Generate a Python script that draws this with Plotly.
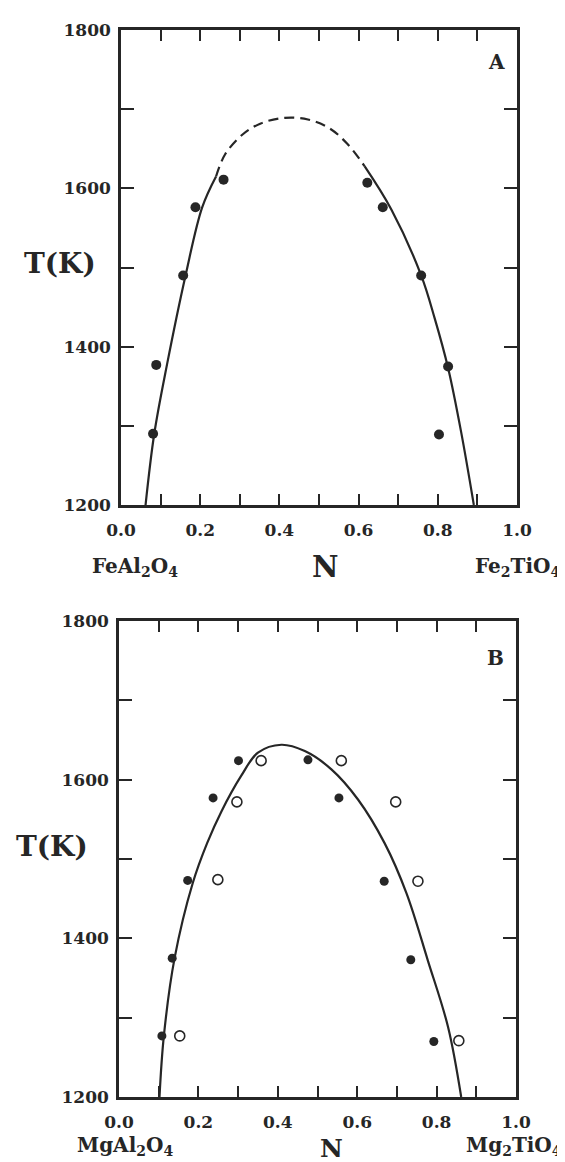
import plotly.graph_objects as go

# ---------------- data ----------------
# Panel A (FeAl2O4 - Fe2TiO4), filled circles
a_n = [0.081, 0.089, 0.157, 0.188, 0.259, 0.622, 0.661, 0.758, 0.826, 0.803]
a_t = [1290, 1377, 1490, 1576, 1611, 1607, 1576, 1490, 1375, 1289]
# Panel A solvus curve
a_left_n = [0.062, 0.084, 0.116, 0.163, 0.205, 0.240]
a_left_t = [1200, 1290, 1377, 1490, 1576, 1615]
a_dash_n = [0.240, 0.263, 0.307, 0.353, 0.413, 0.472, 0.526, 0.572, 0.615]
a_dash_t = [1615, 1643, 1668, 1682, 1689, 1687, 1676, 1656, 1628]
a_right_n = [0.615, 0.683, 0.758, 0.792, 0.826, 0.859, 0.891]
a_right_t = [1628, 1573, 1490, 1436, 1373, 1292, 1200]

# Panel B (MgAl2O4 - Mg2TiO4)
b_fill_n = [0.108, 0.134, 0.173, 0.237, 0.301, 0.476, 0.554, 0.668, 0.735, 0.793]
b_fill_t = [1277, 1375, 1473, 1577, 1624, 1625, 1577, 1472, 1373, 1270]
b_open_n = [0.153, 0.249, 0.297, 0.358, 0.560, 0.697, 0.753, 0.856]
b_open_t = [1277, 1474, 1572, 1624, 1624, 1572, 1472, 1271]
b_curve_n = [0.102, 0.113, 0.140, 0.186, 0.222, 0.258, 0.308, 0.350, 0.409,
             0.468, 0.535, 0.602, 0.669, 0.724, 0.778, 0.829, 0.862]
b_curve_t = [1200, 1277, 1375, 1470, 1520, 1560, 1605, 1634, 1644,
             1636, 1613, 1575, 1520, 1457, 1372, 1288, 1200]

x_tickvals = [0.0, 0.1, 0.2, 0.3, 0.4, 0.5, 0.6, 0.7, 0.8, 0.9, 1.0]
x_ticktext = ["0.0", "", "0.2", "", "0.4", "", "0.6", "", "0.8", "", "1.0"]
y_tickvals = [1200, 1300, 1400, 1500, 1600, 1700, 1800]
y_ticktext = ["1200", "", "1400", "", "1600", "", "1800"]

INK = "#262626"
FONT = "DejaVu Serif"
W, H = 565, 1162

fig = go.Figure()

def line(xs, ys, xa, ya, dash="solid"):
    fig.add_trace(go.Scatter(x=xs, y=ys, mode="lines", xaxis=xa, yaxis=ya,
                             line=dict(color=INK, width=2.2, shape="spline", smoothing=1.0, dash=dash),
                             showlegend=False, hoverinfo="skip"))

line(a_left_n, a_left_t, "x", "y")
line(a_dash_n, a_dash_t, "x", "y", dash="10px,6px")
line(a_right_n, a_right_t, "x", "y")
fig.add_trace(go.Scatter(x=a_n, y=a_t, mode="markers", xaxis="x", yaxis="y",
                         marker=dict(color=INK, size=10, line=dict(width=0)), showlegend=False))

line(b_curve_n, b_curve_t, "x2", "y2")
fig.add_trace(go.Scatter(x=b_fill_n, y=b_fill_t, mode="markers", xaxis="x2", yaxis="y2",
                         marker=dict(color=INK, size=9, line=dict(width=0)), showlegend=False))
fig.add_trace(go.Scatter(x=b_open_n, y=b_open_t, mode="markers", xaxis="x2", yaxis="y2",
                         marker=dict(color="white", size=10, line=dict(color=INK, width=1.6)),
                         showlegend=False))

tickfont = dict(family=FONT, size=17, color=INK, weight="bold")

def xaxis(domain, anchor):
    return dict(domain=domain, anchor=anchor, range=[0, 1], tickvals=x_tickvals, ticktext=x_ticktext,
                ticks="inside", ticklen=11, tickwidth=2, tickcolor=INK, showline=True, linewidth=2.5,
                linecolor=INK, mirror="ticks", showgrid=False, zeroline=False, tickfont=tickfont,
                ticklabelstandoff=8, automargin=False)

def yaxis(domain, anchor):
    return dict(domain=domain, anchor=anchor, range=[1200, 1800], tickvals=y_tickvals, ticktext=y_ticktext,
                ticks="inside", ticklen=13, tickwidth=2, tickcolor=INK, showline=True, linewidth=2.5,
                linecolor=INK, mirror="ticks", showgrid=False, zeroline=False, tickfont=tickfont,
                ticklabelstandoff=4, automargin=False)

fig.update_layout(
    width=W, height=H, margin=dict(l=0, r=0, t=0, b=0, autoexpand=False),
    paper_bgcolor="white", plot_bgcolor="white",
    xaxis=xaxis([113 / W, 509 / W], "y"),
    yaxis=yaxis([1 - 497 / H, 1 - 22 / H], "x"),
    xaxis2=xaxis([111 / W, 508 / W], "y2"),
    yaxis2=yaxis([1 - 1089 / H, 1 - 613 / H], "x2"),
)

def ann(text, px, py, size, xanchor="center"):
    fig.add_annotation(text=text, x=px / W, y=1 - py / H, xref="paper", yref="paper",
                       xanchor=xanchor, yanchor="middle", showarrow=False,
                       font=dict(family=FONT, size=size, color=INK, weight="bold"))

ann("A", 488, 54, 20)
ann("B", 487, 650, 20)
ann("T(K)", 52, 256, 28)
ann("T(K)", 44, 838, 28)
ann("N", 317, 559, 29)
ann("N", 323, 1140, 25)
ann("FeAl<sub>2</sub>O<sub>4</sub>", 127, 559, 20)
ann("Fe<sub>2</sub>TiO<sub>4</sub>", 510, 559, 20)
ann("MgAl<sub>2</sub>O<sub>4</sub>", 117, 1138, 20)
ann("Mg<sub>2</sub>TiO<sub>4</sub>", 506, 1138, 20)

fig.write_html("out.html")
